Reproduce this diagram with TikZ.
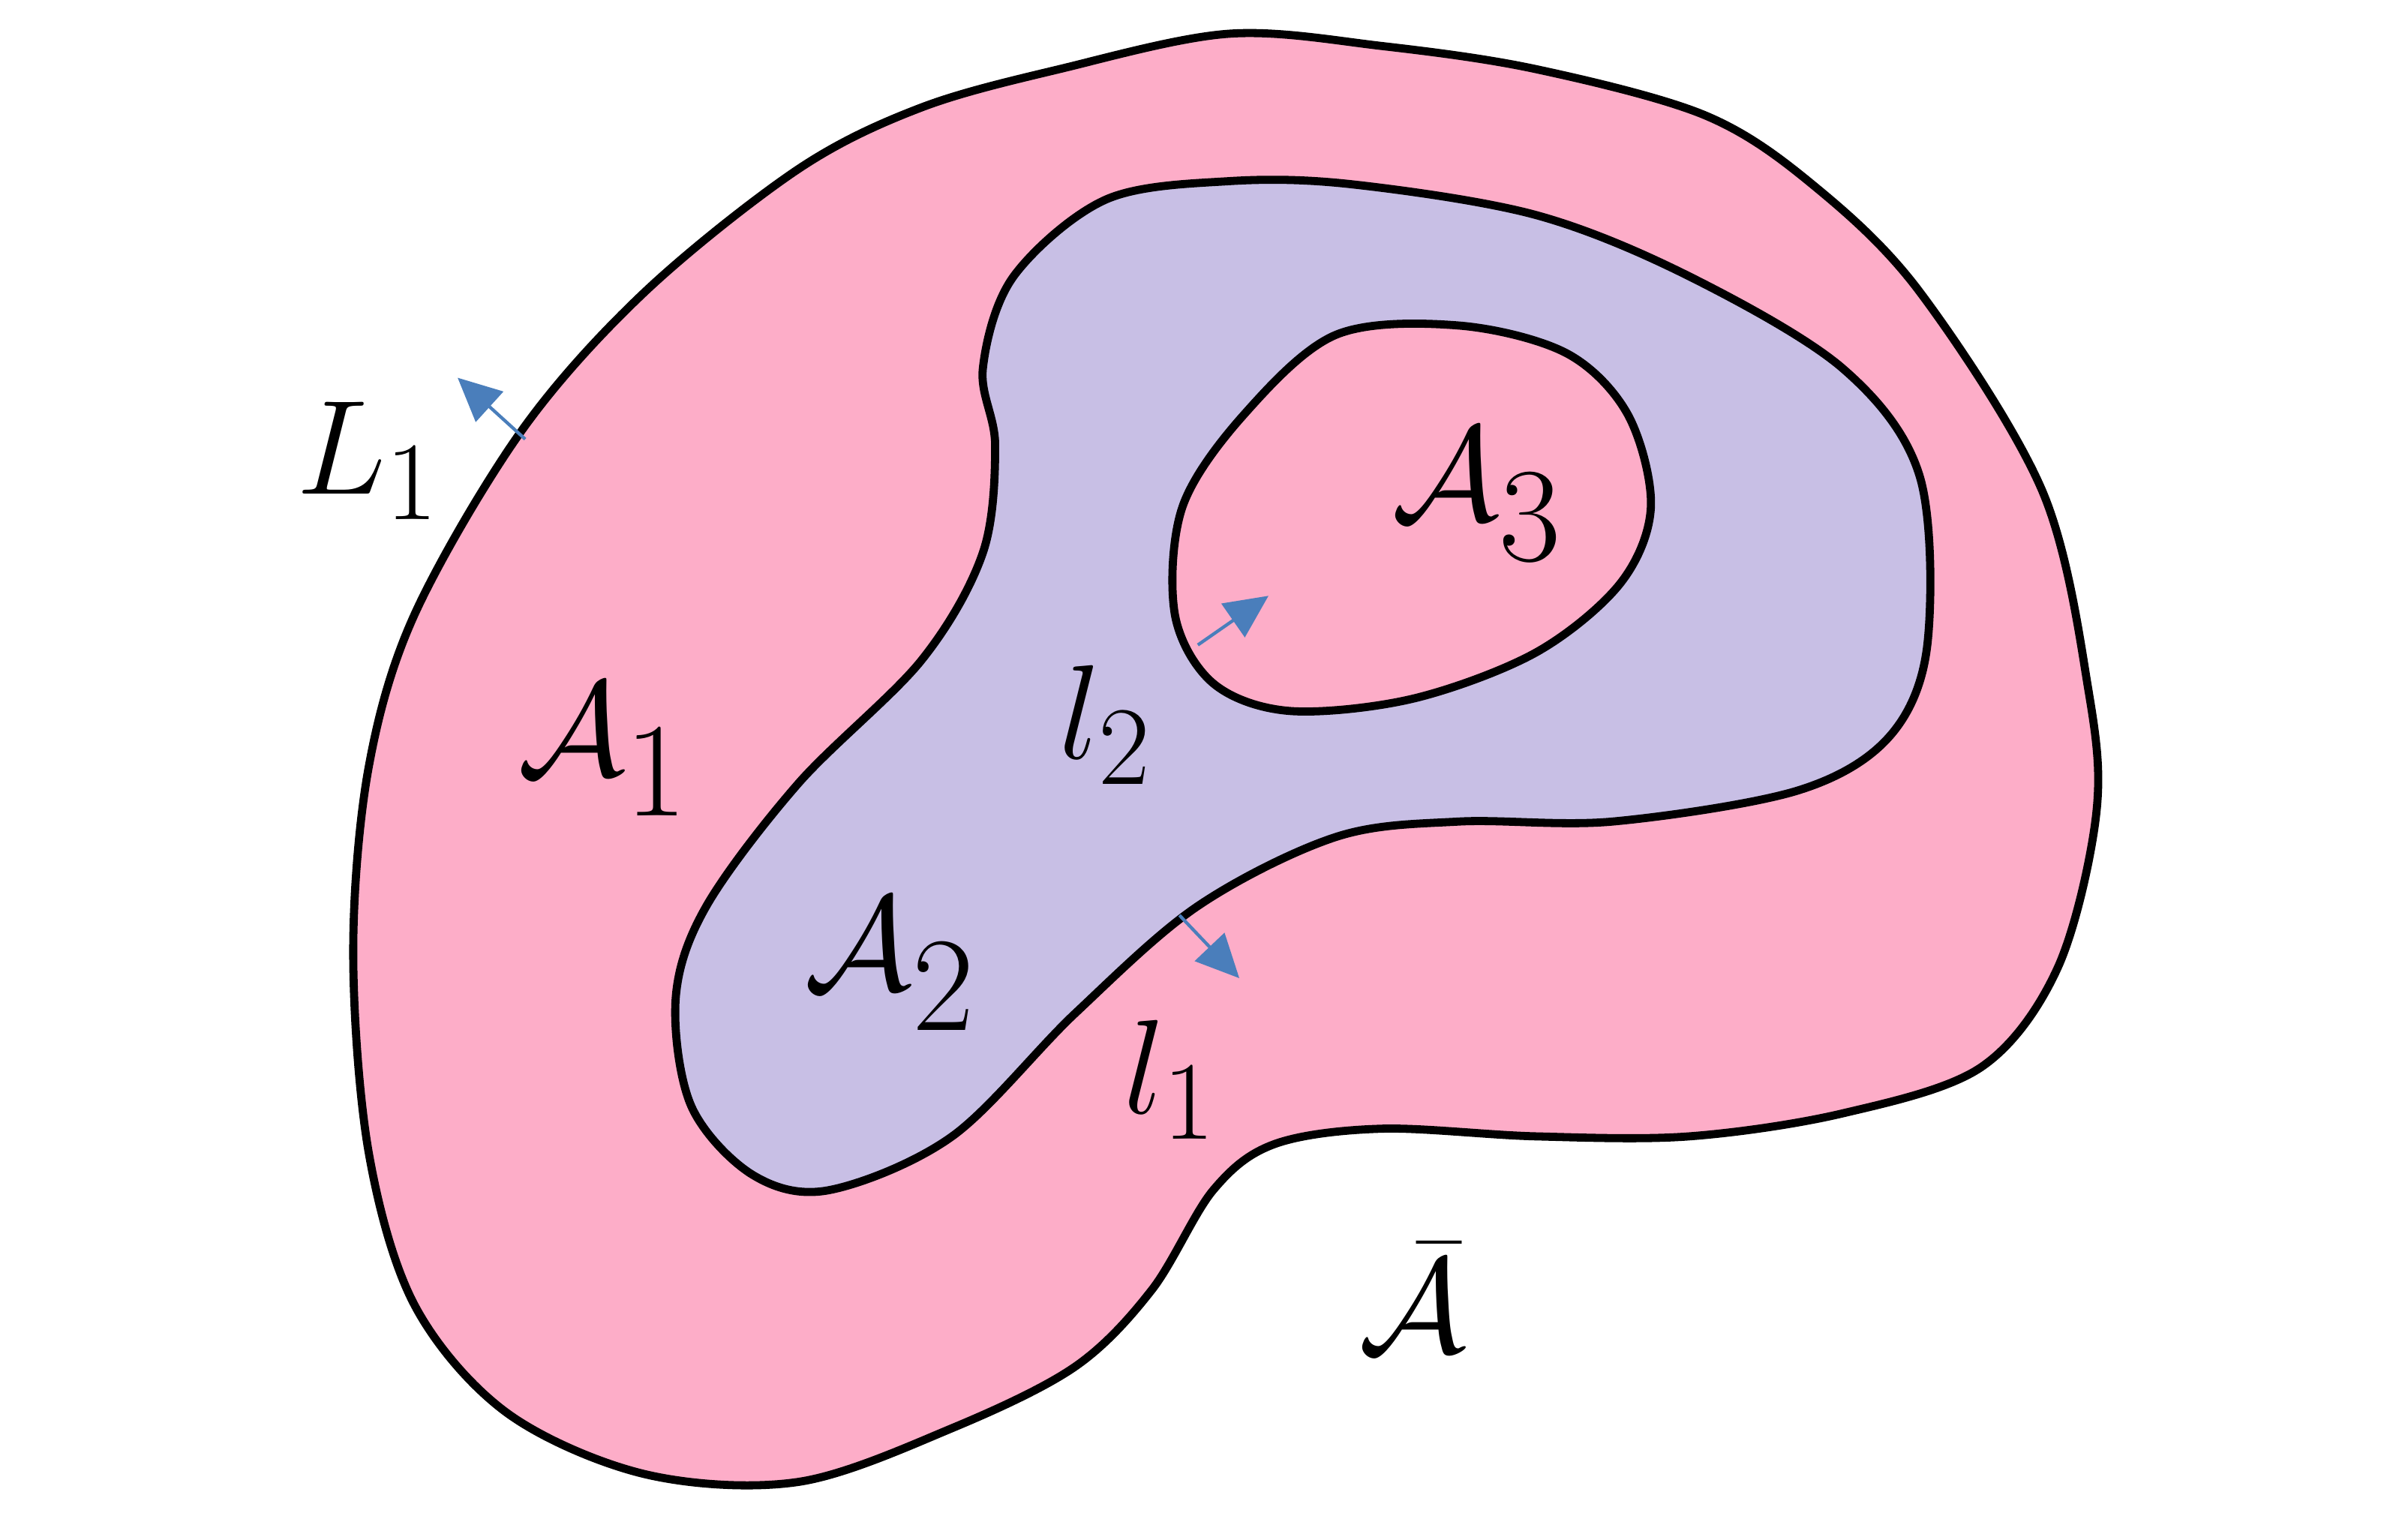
\documentclass[tikz,border=0pt]{standalone}
\usepackage{amsmath}
\usetikzlibrary{arrows.meta}
\definecolor{pinkr}{HTML}{FDADC8}
\definecolor{purp}{HTML}{C8BFE5}
\definecolor{arr}{HTML}{4A7EBB}
\begin{document}
\begin{tikzpicture}[x=0.01cm,y=-0.01cm,
  region/.style={draw=black,line width=1.5pt,line join=round},
  normal/.style={draw=arr,line width=0.6pt,-{Triangle[length=8pt,width=7.5pt]}},
  big/.style={font=\fontsize{50}{56}\selectfont},
  mid/.style={font=\fontsize{32}{38}\selectfont}]
\useasboundingbox (0,0) rectangle (1568,989);
\path[region,fill=pinkr] plot[smooth cycle,tension=0.55] coordinates{(800,22) (900,30) (1000,45) (1110,75) (1180,120) (1250,190) (1330,320) (1360,450) (1365,530) (1340,630) (1290,695) (1200,725) (1100,740) (1000,740) (900,735) (830,745) (790,775) (750,840) (700,890) (620,930) (520,965) (420,960) (330,920) (270,850) (240,750) (230,620) (240,500) (270,400) (340,280) (420,190) (520,110) (600,70) (690,45)};
\path[region,fill=purp] plot[smooth cycle,tension=0.55] coordinates{(720,130) (800,118) (880,120) (1000,140) (1100,180) (1200,240) (1250,310) (1255,420) (1230,480) (1170,515) (1050,535) (950,535) (870,545) (780,590) (700,660) (620,740) (540,775) (490,765) (450,720) (440,650) (460,590) (520,510) (600,430) (640,360) (648,290) (640,240) (660,180)};
\path[region,fill=pinkr] plot[smooth cycle,tension=0.55] coordinates{(870,218) (950,212) (1020,230) (1060,270) (1075,330) (1055,380) (1000,425) (920,455) (840,463) (790,445) (765,400) (770,330) (810,270)};
\coordinate (p1) at (342,286); \coordinate (q1) at (298,246);
\coordinate (p2) at (780,420); \coordinate (q2) at (826,388);
\coordinate (p3) at (768,596); \coordinate (q3) at (807,637);
\draw[normal] (p1) -- (q1);
\draw[normal] (p2) -- (q2);
\draw[normal] (p3) -- (q3);
\node[mid] (L1) at (240,300) {$L_1$};
\node[big] (A1) at (393,488) {$\mathcal{A}_1$};
\node[big] (A2) at (580,628) {$\mathcal{A}_2$};
\node[big] (A3) at (962,322) {$\mathcal{A}_3$};
\node[mid] (l2) at (720,472) {$l_2$};
\node[mid] (l1) at (762,703) {$l_1$};
\node[big] (Ab) at (920,845) {$\bar{\mathcal{A}}$};
\end{tikzpicture}
\end{document}
